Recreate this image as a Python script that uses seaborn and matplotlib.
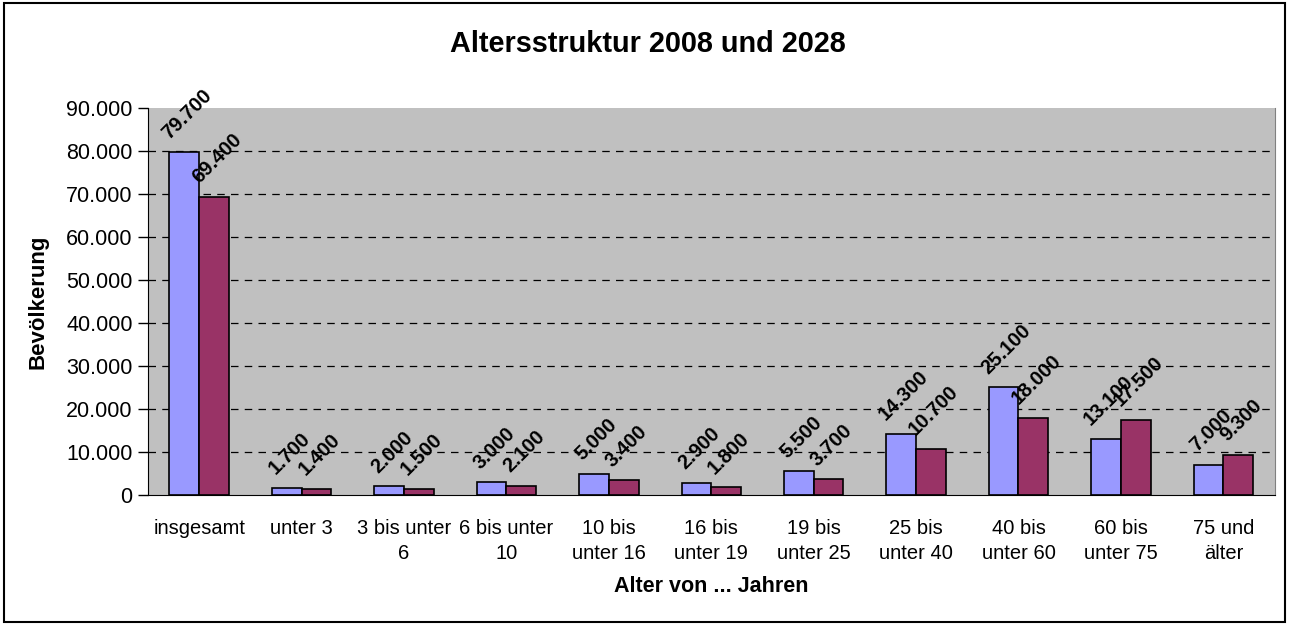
import numpy as np
import pandas as pd
import seaborn as sns
import matplotlib.pyplot as plt
from matplotlib.patches import Rectangle
from matplotlib.ticker import FuncFormatter, MultipleLocator

categories = ["insgesamt", "unter 3", "3 bis unter\n6", "6 bis unter\n10",
              "10 bis\nunter 16", "16 bis\nunter 19", "19 bis\nunter 25",
              "25 bis\nunter 40", "40 bis\nunter 60", "60 bis\nunter 75",
              "75 und\nälter"]
values_2008 = [79700, 1700, 2000, 3000, 5000, 2900, 5500, 14300, 25100, 13100, 7000]
values_2028 = [69400, 1400, 1500, 2100, 3400, 1800, 3700, 10700, 18000, 17500, 9300]
years = ["2008", "2028"]

df = pd.DataFrame({
    "Alter": categories * 2,
    "Jahr": [years[0]] * len(categories) + [years[1]] * len(categories),
    "Bevölkerung": values_2008 + values_2028,
})

sns.set_style("white")
plt.rcParams['font.family'] = ['Liberation Sans', 'DejaVu Sans']
plt.rcParams['text.color'] = 'black'
plt.rcParams['xtick.color'] = 'black'
plt.rcParams['ytick.color'] = 'black'
plt.rcParams['axes.labelcolor'] = 'black'

fig = plt.figure(figsize=(12.9, 6.24), dpi=100)
ax = fig.add_axes([0.1147, 0.2067, 0.8733, 0.6203])

sns.barplot(data=df, x="Alter", y="Bevölkerung", hue="Jahr", order=categories,
            palette={"2008": "#9999FF", "2028": "#993366"}, width=0.58,
            saturation=1, edgecolor="black", linewidth=1.2, legend=False, ax=ax)

ax.set_facecolor("#C0C0C0")
ax.set_ylim(0, 90000)
ax.set_xlim(-0.5, len(categories) - 0.5)
ax.yaxis.set_major_locator(MultipleLocator(10000))
ax.yaxis.set_major_formatter(FuncFormatter(lambda v, p: f"{int(v):,}".replace(",", ".")))
for y in range(10000, 90000, 10000):
    ax.axhline(y, color="black", linestyle=(0, (6, 5)), linewidth=0.9, zorder=0.5)

# value labels, rotated like Excel
for cont in ax.containers:
    for bar in cont:
        h = bar.get_height()
        ax.annotate(f"{int(h):,}".replace(",", "."),
                    (bar.get_x() + bar.get_width() / 2, h),
                    xytext=(2, 7), textcoords="offset points",
                    rotation=45, ha="center", va="bottom",
                    fontsize=14.5, fontweight="bold")

ax.spines["top"].set_visible(False)
ax.spines["right"].set_color("#808080")
ax.spines["left"].set_color("black")
ax.spines["bottom"].set_color("black")

ax.set_xticks(np.arange(len(categories)))
ax.set_xticklabels(categories, fontsize=14.5, linespacing=1.45)
ax.set_xticks(np.arange(-0.5, len(categories)), minor=True)
ax.tick_params(axis="x", which="major", length=0, pad=17)
ax.tick_params(axis="x", which="minor", length=7, width=1, color="black", direction="out")
ax.tick_params(axis="y", length=7, width=1, color="black", direction="out", labelsize=15.5, pad=4)
ax.tick_params(axis="both", bottom=True, left=True)

ax.set_xlabel("Alter von ... Jahren", fontsize=15.5, fontweight="bold", labelpad=9)
ax.set_ylabel("Bevölkerung", fontsize=16, fontweight="bold", labelpad=13)
fig.text(0.502, 0.929, "Altersstruktur 2008 und 2028", ha="center", va="center",
         fontsize=20.8, fontweight="bold")

fig.patches.append(Rectangle((4 / 1290, 2 / 624), 1281 / 1290, 619 / 624,
                             transform=fig.transFigure, fill=False,
                             edgecolor="black", linewidth=1.5))

fig.savefig("out.png", dpi=100)
